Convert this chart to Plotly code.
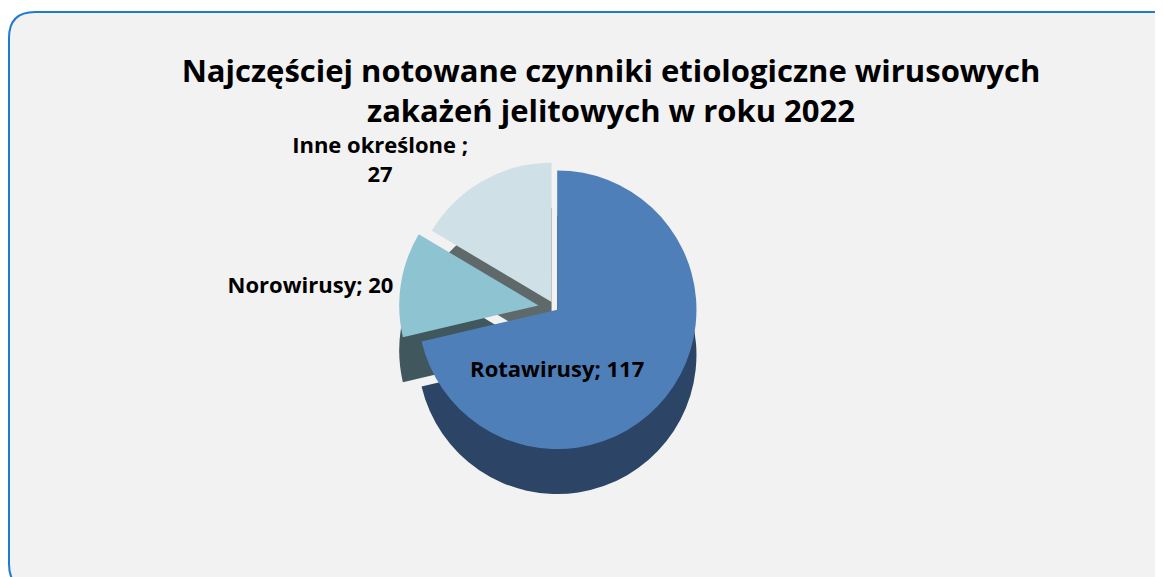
import plotly.graph_objects as go

# Data
categories = ["Rotawirusy", "Norowirusy", "Inne określone "]
values = [117, 20, 27]
label_texts = ["<b>Rotawirusy; 117</b>", "<b>Norowirusy; 20</b>", "<b>Inne określone ;<br>27</b>"]
title_lines = ["Najczęściej notowane czynniki etiologiczne wirusowych",
               "zakażeń jelitowych w roku 2022"]

top_colors = ["#4F7FB8", "#8EC3D2", "#CFE1E6"]
side_colors = ["#2C4566", "#40575D", "#5F696A"]
pulls = [0.02, 0.12, 0.05]

W, H = 1163, 577
OFF = 8  # page body margin


def fx(x):
    return (x - OFF) / W


def fy(y):
    return 1 - (y - OFF) / H


FONT = "Open Sans, Calibri, sans-serif"

# pie geometry (page pixels)
cx, cy, half, depth = 555, 308, 156, 45
dom_x = [fx(cx - half), fx(cx + half)]
dom_top = [fy(cy + half), fy(cy - half)]
dom_side = [fy(cy + depth + half), fy(cy + depth - half)]

fig = go.Figure()
# side walls (depth effect)
fig.add_trace(go.Pie(
    labels=categories, values=values, sort=False, direction="clockwise",
    rotation=0, pull=pulls, textinfo="none", hoverinfo="skip",
    marker=dict(colors=side_colors, line=dict(width=0)),
    domain=dict(x=dom_x, y=dom_side), showlegend=False,
))
# top surface
fig.add_trace(go.Pie(
    labels=categories,
    values=values,
    text=label_texts,
    textinfo="text",
    texttemplate="%{text}",
    sort=False,
    direction="clockwise",
    rotation=0,
    pull=pulls,
    marker=dict(colors=top_colors, line=dict(width=0)),
    textposition=["inside", "outside", "outside"],
    insidetextorientation="horizontal",
    textfont=dict(family=FONT, size=22, color="#000000"),
    outsidetextfont=dict(family=FONT, size=22, color="#000000"),
    domain=dict(x=dom_x, y=dom_top),
    showlegend=False,
    hoverinfo="label+value",
))

# rounded-rectangle chart area background
x0, y0, x1, y1, r = 9, 12, 1190, 590, 26
path = (
    f"M {fx(x0)},{fy(y0 + r)} "
    f"Q {fx(x0)},{fy(y0)} {fx(x0 + r)},{fy(y0)} "
    f"L {fx(x1 - r)},{fy(y0)} "
    f"Q {fx(x1)},{fy(y0)} {fx(x1)},{fy(y0 + r)} "
    f"L {fx(x1)},{fy(y1 - r)} "
    f"Q {fx(x1)},{fy(y1)} {fx(x1 - r)},{fy(y1)} "
    f"L {fx(x0 + r)},{fy(y1)} "
    f"Q {fx(x0)},{fy(y1)} {fx(x0)},{fy(y1 - r)} Z"
)

fig.update_layout(
    width=W,
    height=H,
    margin=dict(l=0, r=0, t=0, b=0),
    paper_bgcolor="#FFFFFF",
    plot_bgcolor="#FFFFFF",
    shapes=[dict(type="path", path=path, xref="paper", yref="paper",
                 fillcolor="#F2F2F2", line=dict(color="#1F7BD1", width=2),
                 layer="below")],
    title=dict(
        text="<b>" + title_lines[0] + "<br>" + title_lines[1] + "</b>",
        x=fx(611), xanchor="center",
        y=fy(82), yanchor="middle",
        font=dict(family=FONT, size=31, color="#000000"),
    ),
)

fig.write_html("out.html")
